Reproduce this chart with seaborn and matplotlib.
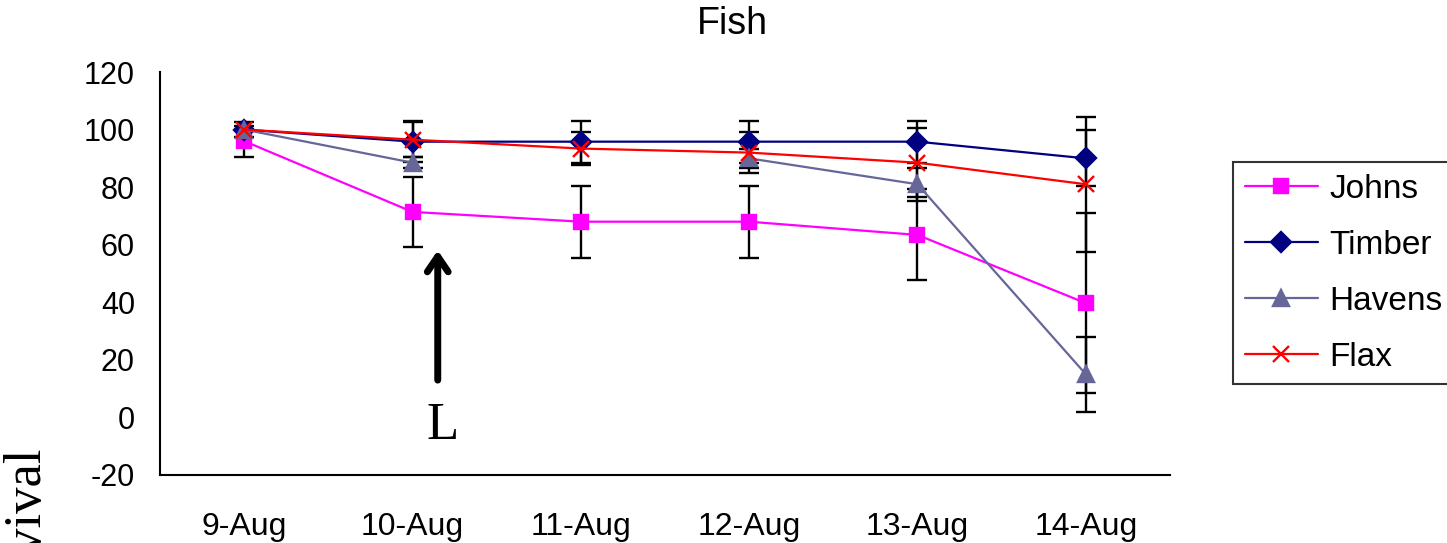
import numpy as np
import pandas as pd
import matplotlib
matplotlib.use("Agg")
import matplotlib.pyplot as plt
from matplotlib.lines import Line2D
import seaborn as sns

# Data
dates = ["9-Aug", "10-Aug", "11-Aug", "12-Aug", "13-Aug", "14-Aug"]
johns = [96, 71.4, 68, 68, 63.4, 39.7]
johns_err = [5.4, 12.2, 12.5, 12.5, 15.8, 31.3]
timber = [100, 95.8, 95.8, 95.8, 95.8, 90]
timber_err = [0, 7.2, 7.3, 7.3, 7.3, 9.7]
havens = [100, 88.5, np.nan, 90, 81, 15]
havens_err = [0, 2, np.nan, 3.4, 5.8, 13]
flax = [100, 96.5, 93.4, 92, 88.5, 81]
flax_err = [2.7, 6, 5.7, 7, 12, 23.5]

series = ["Johns", "Timber", "Havens", "Flax"]
colors = ["#FF00FF", "#000080", "#666699", "#FF0000"]
markers = ["s", "D", "^", "x"]
msizes = [10, 10, 11, 11]

sns.set_style("white")
plt.rcParams["font.family"] = ["Liberation Sans", "DejaVu Sans"]
plt.rcParams["axes.unicode_minus"] = False
for k in ["text.color", "axes.labelcolor", "xtick.color", "ytick.color"]:
    plt.rcParams[k] = "black"

# long-form table, segments split at missing values
rows = []
for name, vals, errs in zip(series, [johns, timber, havens, flax],
                            [johns_err, timber_err, havens_err, flax_err]):
    seg = 0
    for i, (v, e) in enumerate(zip(vals, errs)):
        if np.isnan(v):
            seg += 1
            continue
        rows.append({"series": name, "pos": i, "value": v, "err": e, "seg": seg})
df = pd.DataFrame(rows)

fig = plt.figure(figsize=(14.47, 5.43), dpi=100)
ax = fig.add_axes([160 / 1447, 1 - 475 / 543, 1010 / 1447, 403 / 543])

# error bars behind the markers
ax.errorbar(df["pos"], df["value"], yerr=df["err"], fmt="none",
            ecolor="black", elinewidth=1.7, capsize=7.5, capthick=1.7, zorder=1)

for name, c, m, ms in zip(series, colors, markers, msizes):
    sub = df[df["series"] == name]
    sns.lineplot(data=sub, x="pos", y="value", units="seg", estimator=None,
                 color=c, marker=m, markersize=ms, markeredgewidth=1.7,
                 markeredgecolor=c, linewidth=1.6, legend=False, ax=ax, zorder=3)

ax.set_xlim(-0.5, 5.5)
ax.set_ylim(-20, 120)
ax.set_yticks(range(-20, 121, 20))
ax.set_xticks(range(len(dates)))
ax.set_xticklabels(dates)
ax.set_xticks(np.arange(-0.5, 6, 1), minor=True)
ax.tick_params(axis="x", which="major", length=0, pad=27, labelsize=23)
ax.tick_params(axis="x", which="minor", length=11, width=1.5, direction="out")
ax.tick_params(axis="y", length=9, width=1.5, direction="out", pad=9, labelsize=22)
ax.set_xlabel("")
ax.set_ylabel("")
sns.despine(ax=ax)
for s in ["left", "bottom"]:
    ax.spines[s].set_linewidth(1.5)
    ax.spines[s].set_color("black")

fig.text(732 / 1447, 1 - 24 / 543, "Fish", fontsize=27, ha="center", va="center")

# arrow marking L
ax.annotate("", xy=(1.15, 59), xytext=(1.15, 12),
            arrowprops=dict(arrowstyle="->,head_length=1.1,head_width=0.75",
                            lw=5, color="black", capstyle="round"))
ax.text(1.18, -3, "L", fontsize=38, family="Liberation Serif",
        ha="center", va="center")

fig.text(25 / 1447, 1 - 445 / 543, "Survival", rotation=90, fontsize=38,
         family="Liberation Serif", ha="center", va="top")

handles = [Line2D([], [], color=c, marker=m, markersize=ms, markeredgewidth=1.7,
                  markeredgecolor=c, linewidth=1.6)
           for c, m, ms in zip(colors, markers, msizes)]
leg = fig.legend(handles, series, loc="upper left",
                 bbox_to_anchor=(1233 / 1447, 1 - 162 / 543), borderaxespad=0,
                 fontsize=24, handlelength=2.2, handletextpad=0.35,
                 labelspacing=0.75, borderpad=0.35, fancybox=False)
leg.get_frame().set_edgecolor("black")
leg.get_frame().set_linewidth(1.5)

fig.savefig("out.png", dpi=100)
